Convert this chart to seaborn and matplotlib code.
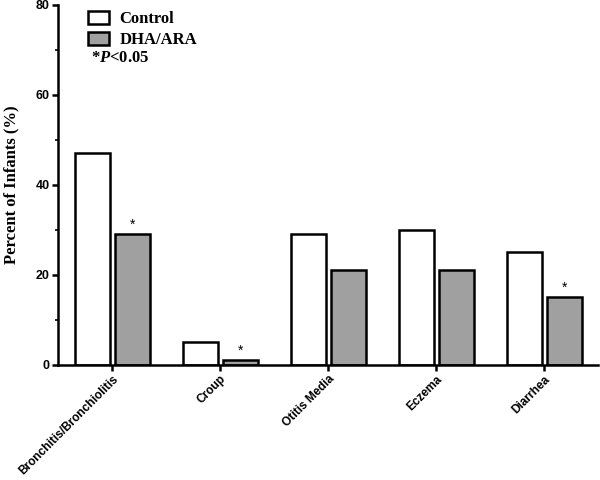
import numpy as np
import pandas as pd
import seaborn as sns
from matplotlib import pyplot as plt
from matplotlib.patches import Patch
from matplotlib.ticker import MultipleLocator

categories = ["Bronchitis/Bronchiolitis", "Croup", "Otitis Media", "Eczema", "Diarrhea"]
groups = ["Control", "DHA/ARA"]
control = [47, 5, 29, 30, 25]
dha_ara = [29, 1, 21, 21, 15]
significant = [True, True, False, False, True]  # DHA/ARA vs control, P<0.05

df = pd.DataFrame({
    "condition": categories * 2,
    "group": [groups[0]] * len(categories) + [groups[1]] * len(categories),
    "percent": control + dha_ara,
})

sns.set_style("ticks")
plt.rcParams["font.family"] = ["Liberation Sans", "DejaVu Sans"]
plt.rcParams["mathtext.fontset"] = "custom"
plt.rcParams["mathtext.it"] = "Liberation Serif:italic:bold"
plt.rcParams["mathtext.rm"] = "Liberation Serif:bold"
for key in ["text.color", "axes.labelcolor", "xtick.color", "ytick.color", "axes.edgecolor"]:
    plt.rcParams[key] = "black"

fig = plt.figure(figsize=(6, 4.8), dpi=100)
ax = fig.add_axes([0.097, 0.24, 0.9, 0.75])

palette = {"Control": "white", "DHA/ARA": "#a0a0a0"}
sns.barplot(
    data=df, x="condition", y="percent", hue="group",
    palette=palette, width=0.74, gap=0.12,
    edgecolor="black", linewidth=1.8, ax=ax, legend=False,
)

# significance marks above the DHA/ARA bars
for bar, sig in zip(ax.containers[1], significant):
    if sig:
        ax.text(bar.get_x() + bar.get_width() / 2, bar.get_height() + 0.6, "*",
                ha="center", va="bottom", fontsize=10, color="black")

ax.set_xlim(-0.5, len(categories) - 0.5)
ax.set_ylim(0, 80)
ax.yaxis.set_major_locator(MultipleLocator(20))
ax.yaxis.set_minor_locator(MultipleLocator(10))
ax.set_xlabel("")
ax.set_ylabel("Percent of Infants (%)", family=["Liberation Serif", "DejaVu Serif"],
              fontweight="bold", fontsize=12, labelpad=12)

sns.despine(ax=ax)
for side in ["left", "bottom"]:
    ax.spines[side].set_linewidth(1.8)

ax.tick_params(axis="both", which="major", length=4, width=1.8, labelsize=9, pad=2)
ax.tick_params(axis="y", which="minor", length=2, width=1.2)
ax.set_xticks(range(len(categories)))
ax.set_xticklabels(categories, rotation=45, ha="right", rotation_mode="anchor",
                   fontweight="bold", fontsize=8.6)
for lab in ax.get_yticklabels():
    lab.set_fontweight("bold")

handles = [Patch(facecolor=palette[g], edgecolor="black", linewidth=1.8) for g in groups]
leg = ax.legend(handles, groups, loc="upper left", bbox_to_anchor=(0.027, 1.025),
                frameon=False, handlelength=1.25, handleheight=0.8,
                handletextpad=0.65, labelspacing=0.3,
                prop={"family": "Liberation Serif", "weight": "bold", "size": 12})

fig.text(0.152, 0.879, r"*$\mathit{P}$<0.05", family=["Liberation Serif", "DejaVu Serif"],
         fontweight="bold", fontsize=12, va="center", ha="left")

fig.savefig("out.png", dpi=100)
